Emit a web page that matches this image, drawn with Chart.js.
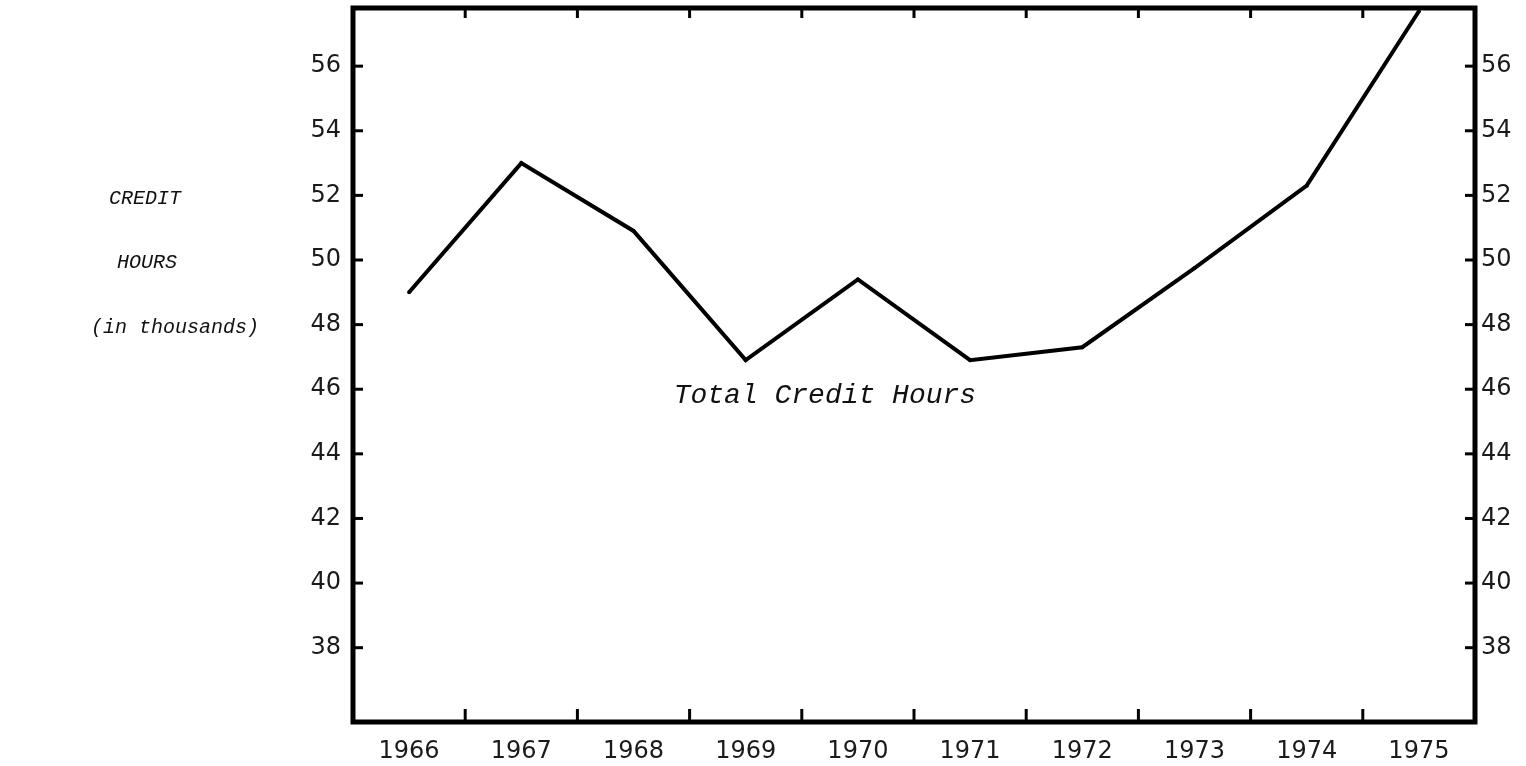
<!DOCTYPE html>
<html>
<head>
<meta charset="utf-8">
<script src="https://cdn.jsdelivr.net/npm/chart.js@4/dist/chart.umd.min.js"></script>
<style>
html,body{margin:0;padding:0;background:#fff;}
#wrap{width:1526px;height:766px;position:relative;}
</style>
</head>
<body>
<div id="wrap"><canvas id="c"></canvas></div>
<script>
// ---- data ----
const years = ['1966','1967','1968','1969','1970','1971','1972','1973','1974','1975'];
const creditHours = [49.0, 53.0, 50.9, 46.9, 49.4, 46.9, 47.3, 49.75, 52.3, 57.7];
const yTicks = [38, 40, 42, 44, 46, 48, 50, 52, 54, 56];
const yMin = 35.7;
const yMax = 57.8;
const seriesLabel = 'Total Credit Hours';
const yAxisTitle = ['CREDIT', 'HOURS', '(in thousands)'];
const yAxisTitleRows = [52, 50, 48];

const tickFont = {family: '"DejaVu Sans", sans-serif', size: 24};
const textColor = '#1a1a1a';

const framePlugin = {
  id: 'frame',
  afterDatasetsDraw(chart) {
    const {ctx, chartArea: a, scales} = chart;
    const line = (x1, y1, x2, y2) => { ctx.beginPath(); ctx.moveTo(x1, y1); ctx.lineTo(x2, y2); ctx.stroke(); };
    ctx.save();
    ctx.strokeStyle = '#000';
    ctx.lineWidth = 5;
    ctx.lineJoin = 'miter';
    ctx.strokeRect(a.left, a.top, a.right - a.left, a.bottom - a.top);
    ctx.lineWidth = 3;
    yTicks.forEach(v => {
      const y = scales.y.getPixelForValue(v);
      line(a.left, y, a.left + 10, y);
      line(a.right - 10, y, a.right, y);
    });
    for (let i = 0; i < years.length - 1; i++) {
      const x = (scales.x.getPixelForValue(i) + scales.x.getPixelForValue(i + 1)) / 2;
      line(x, a.bottom, x, a.bottom - 13);
      line(x, a.top, x, a.top + 10);
    }
    // series label
    ctx.fillStyle = '#111';
    ctx.font = 'italic 28px "Liberation Mono", monospace';
    ctx.textAlign = 'center';
    ctx.textBaseline = 'middle';
    ctx.fillText(seriesLabel, scales.x.getPixelForValue(4) - 33, scales.y.getPixelForValue(45.8));
    // y-axis title (three typed lines)
    ctx.font = 'italic 20px "Liberation Mono", monospace';
    const cx = [145, 147, 175];
    yAxisTitle.forEach((t, i) => {
      ctx.fillText(t, cx[i], scales.y.getPixelForValue(yAxisTitleRows[i]) + 3);
    });
    ctx.restore();
  }
};

new Chart(document.getElementById('c'), {
  type: 'line',
  data: {
    labels: years,
    datasets: [{
      label: seriesLabel,
      data: creditHours,
      borderColor: '#000',
      backgroundColor: '#000',
      borderWidth: 4,
      pointRadius: 2,
      pointBorderWidth: 0,
      tension: 0,
      clip: 0
    }]
  },
  options: {
    responsive: true,
    maintainAspectRatio: false,
    animation: false,
    layout: {padding: {top: 8, left: 0, right: 0, bottom: 0}},
    plugins: {legend: {display: false}, tooltip: {enabled: false}},
    scales: {
      x: {
        type: 'category',
        offset: true,
        grid: {display: false, drawTicks: false},
        border: {display: false},
        ticks: {font: tickFont, color: textColor, padding: 15, autoSkip: false, maxRotation: 0},
        afterFit: s => { s.height = 44; s.paddingLeft = 0; s.paddingRight = 0; }
      },
      y: {
        position: 'left',
        min: yMin, max: yMax,
        grid: {display: false, drawTicks: false},
        border: {display: false},
        ticks: {font: tickFont, color: textColor, padding: 12},
        afterBuildTicks: s => { s.ticks = yTicks.map(v => ({value: v})); },
        afterFit: s => { s.width = 353; s.paddingTop = 0; s.paddingBottom = 0; }
      },
      y2: {
        position: 'right',
        min: yMin, max: yMax,
        grid: {display: false, drawTicks: false},
        border: {display: false},
        ticks: {font: tickFont, color: textColor, padding: 6},
        afterBuildTicks: s => { s.ticks = yTicks.map(v => ({value: v})); },
        afterFit: s => { s.width = 51; s.paddingTop = 0; s.paddingBottom = 0; }
      }
    }
  },
  plugins: [framePlugin]
});
</script>
</body>
</html>
